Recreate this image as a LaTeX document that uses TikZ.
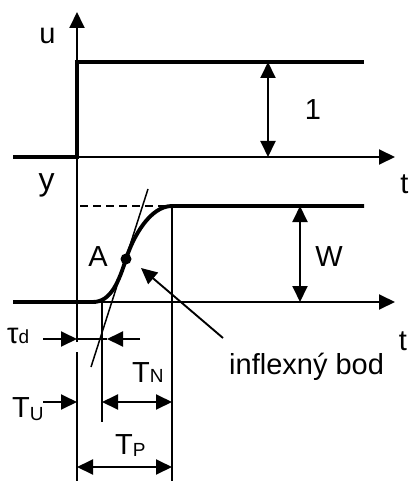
\documentclass[tikz,border=0pt]{standalone}
\usepackage{fontspec}
\setmainfont{Liberation Sans}
\usetikzlibrary{arrows.meta}
\begin{document}
\begin{tikzpicture}[x=1pt,y=-1pt,
  thinline/.style={line width=1.9pt},
  thickline/.style={line width=3.9pt},
  tangentline/.style={line width=1.5pt},
  arrowtip/.style={thinline,-{Triangle[length=16pt,width=15pt]}},
  dimarrow/.style={thinline,{Triangle[length=16pt,width=15pt]}-{Triangle[length=16pt,width=15pt]}},
  lbl/.style={inner sep=0pt,font=\fontsize{29}{32}\selectfont}
]
\useasboundingbox (0,0) rectangle (410,481);

% key points
\coordinate (Utop) at (77,12);
\coordinate (Ugap) at (77,342);
\coordinate (Lgap) at (77,352);
\coordinate (Bot) at (77,481);
\coordinate (O1) at (77,157);
\coordinate (T1end) at (395,157);
\coordinate (O2) at (77,302);
\coordinate (T2end) at (395,302);
\coordinate (S0) at (13,157);
\coordinate (S1) at (77,62);
\coordinate (S2) at (364,62);
\coordinate (Y0) at (13,302);
\coordinate (Y1) at (93,302);
\coordinate (A) at (126,259);
\coordinate (Yss) at (172,206);
\coordinate (Yend) at (364,206);
\coordinate (D0) at (80,206);
\coordinate (P0) at (172,481);
\coordinate (N0) at (102,302);
\coordinate (N1) at (102,422);
\coordinate (Tg0) at (91,367);
\coordinate (Tg1) at (148,189);
\coordinate (Inf0) at (223,338);
\coordinate (Inf1) at (141,268);

% axes
\draw[thinline] (Lgap) -- (Bot);
\draw[arrowtip] (Ugap) -- (Utop);
\draw[arrowtip] (O1) -- (T1end);
\draw[arrowtip] (O2) -- (T2end);

% input step
\draw[thickline] (S0) -- (O1) -- (S1) -- (S2);

% response
\draw[thinline, dash pattern=on 8pt off 5pt] (D0) -- (Yss);
\draw[thickline] (Y0) -- (Y1) .. controls (111,302) and (119,281) .. (A)
   .. controls (133,237) and (150,206) .. (Yss) -- (Yend);
\draw[tangentline] (Tg0) -- (Tg1);
\fill (A) circle (5.5pt);
\draw[thinline] (Yss) -- (P0);
\draw[thinline] (N0) -- (N1);

% magnitude arrows
\draw[dimarrow] (268,62) -- (268,157);
\draw[dimarrow] (300,206) -- (300,302);

% inflection arrow
\draw[arrowtip] (Inf0) -- (Inf1);

% tau_d
\draw[arrowtip] (43,339) -- (77,339);
\draw[arrowtip] (140,339) -- (107,339);
\draw[thinline] (77,339) -- (107,339);

% T_U, T_N, T_P
\draw[arrowtip] (43,402) -- (77,402);
\draw[dimarrow] (102,402) -- (172,402);
\draw[dimarrow] (77,467) -- (172,467);

% labels
\node[lbl, anchor=base] (lu) at (47.5,44) {u};
\node[lbl, anchor=base] (l1) at (313,120) {1};
\node[lbl, anchor=base] (lt1) at (404.5,193) {t};
\node[lbl, anchor=base, font=\fontsize{32}{34}\selectfont] (ly) at (46.5,190) {y};
\node[lbl, anchor=base] (lA) at (98,266) {A};
\node[lbl, anchor=base] (lW) at (329,266) {W};
\node[lbl, anchor=base] (lt2) at (403,350) {t};
\node[lbl, anchor=base west] (ltau) at (7,343) {τ\fontsize{19}{20}\selectfont d};
\node[lbl, anchor=base west] (lTN) at (132,382) {T\fontsize{19}{20}\selectfont N};
\node[lbl, anchor=base west] (linf) at (229,374) {inflexný bod};
\node[lbl, anchor=base west] (lTU) at (12,417) {T\raisebox{-3pt}{\fontsize{19}{20}\selectfont U}};
\node[lbl, anchor=base west] (lTP) at (115,454) {T\raisebox{-2pt}{\fontsize{19}{20}\selectfont P}};
\end{tikzpicture}
\end{document}
